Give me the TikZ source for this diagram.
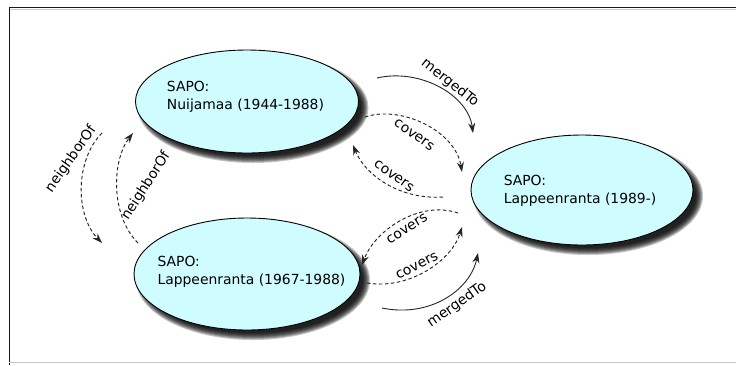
\documentclass[tikz,border=0pt]{standalone}
\usepackage{fontspec}
\setmainfont{DejaVu Sans}
\usetikzlibrary{shapes.geometric,arrows.meta}
\definecolor{cyanfill}{RGB}{207,252,254}
\definecolor{framegray}{RGB}{200,200,200}
\tikzset{
  statenode/.style={ellipse, draw=black, line width=0.9pt, fill=cyanfill, inner sep=0pt},
  statetext/.style={align=left, inner sep=0pt, font=\fontsize{13.9}{18.5}\selectfont},
  lbl/.style={font=\fontsize{13.9}{16}\selectfont, inner sep=0pt},
  solidarr/.style={draw=black!85, line width=0.9pt, -{Stealth[length=10pt,width=7pt]}},
  dasharr/.style={draw=black!85, line width=0.95pt, dash pattern=on 3.5pt off 2.5pt, -{Stealth[length=10pt,width=7pt]}},
}
\newcommand{\myshadow}[4]{%
  \foreach \k in {0,...,7}{
    \fill[black, opacity=0.22] (#1+6,#2+6) ellipse [x radius=#3+4-\k, y radius=#4+4-\k];
  }}
\begin{document}
\begin{tikzpicture}[x=1pt,y=-1pt]
\useasboundingbox (0,0) rectangle (736,365);
\fill[white] (0,0) rectangle (736,365);
% frame
\draw[framegray, line width=1.2pt] (9,9.5) -- (736,9.5);
\draw[black!90, line width=1.6pt] (9.5,365) -- (9.5,7.5) -- (736,7.5);
\draw[framegray, line width=1.5pt] (9,362.5) -- (736,362.5);
% shadows
\myshadow{247}{101.5}{111.5}{51.5}
\myshadow{247}{274}{113}{56}
\myshadow{582}{190}{111}{55}
% nodes
\node[statenode, minimum width=223pt, minimum height=103pt] (nui) at (247,101.5) {};
\node[statenode, minimum width=226pt, minimum height=112pt] (lapold) at (247,274) {};
\node[statenode, minimum width=222pt, minimum height=110pt] (lapnew) at (582,190) {};
\node[statetext] (nuit) at (245.5,97) {SAPO:\\Nuijamaa (1944-1988)};
\node[statetext] (lapoldt) at (251.5,272) {SAPO:\\Lappeenranta (1967-1988)};
\node[statetext] (lapnewt) at (580,191) {SAPO:\\Lappeenranta (1989-)};
% connector end points
\coordinate (m1s) at (377,78);  \coordinate (m1e) at (473,133);
\coordinate (c1s) at (365,117); \coordinate (c1e) at (462,172);
\coordinate (c2s) at (443,197); \coordinate (c2e) at (353,145);
\coordinate (c3s) at (458,213); \coordinate (c3e) at (362,265);
\coordinate (c4s) at (367,283); \coordinate (c4e) at (462,227);
\coordinate (m2s) at (382,308); \coordinate (m2e) at (478,253);
\coordinate (n1s) at (102,133); \coordinate (n1e) at (102,243);
\coordinate (n2s) at (138,243); \coordinate (n2e) at (133,133);
% connectors
\draw[solidarr] (m1s) .. controls (420,68) and (468,95) .. (m1e);
\draw[dasharr] (c1s) .. controls (400,105) and (455,130) .. (c1e);
\draw[dasharr] (c2s) .. controls (400,200) and (365,175) .. (c2e);
\draw[dasharr] (c3s) .. controls (420,200) and (375,230) .. (c3e);
\draw[dasharr] (c4s) .. controls (410,290) and (452,260) .. (c4e);
\draw[solidarr] (m2s) .. controls (430,318) and (470,290) .. (m2e);
\draw[dasharr] (n1s) .. controls (75,160) and (75,215) .. (n1e);
\draw[dasharr] (n2s) .. controls (110,215) and (112,160) .. (n2e);
% labels
\node[lbl, rotate=-38] (l1) at (450,83) {mergedTo};
\node[lbl, rotate=-35] (l2) at (414,135) {covers};
\node[lbl, rotate=-36] (l3) at (394,176) {covers};
\node[lbl, rotate=32] (l4) at (407,229) {covers};
\node[lbl, rotate=27] (l5) at (417,266) {covers};
\node[lbl, rotate=35] (l6) at (457,305) {mergedTo};
\node[lbl, rotate=55] (l7) at (71,159) {neighborOf};
\node[lbl, rotate=57] (l8) at (146,186) {neighborOf};
\end{tikzpicture}
\end{document}
